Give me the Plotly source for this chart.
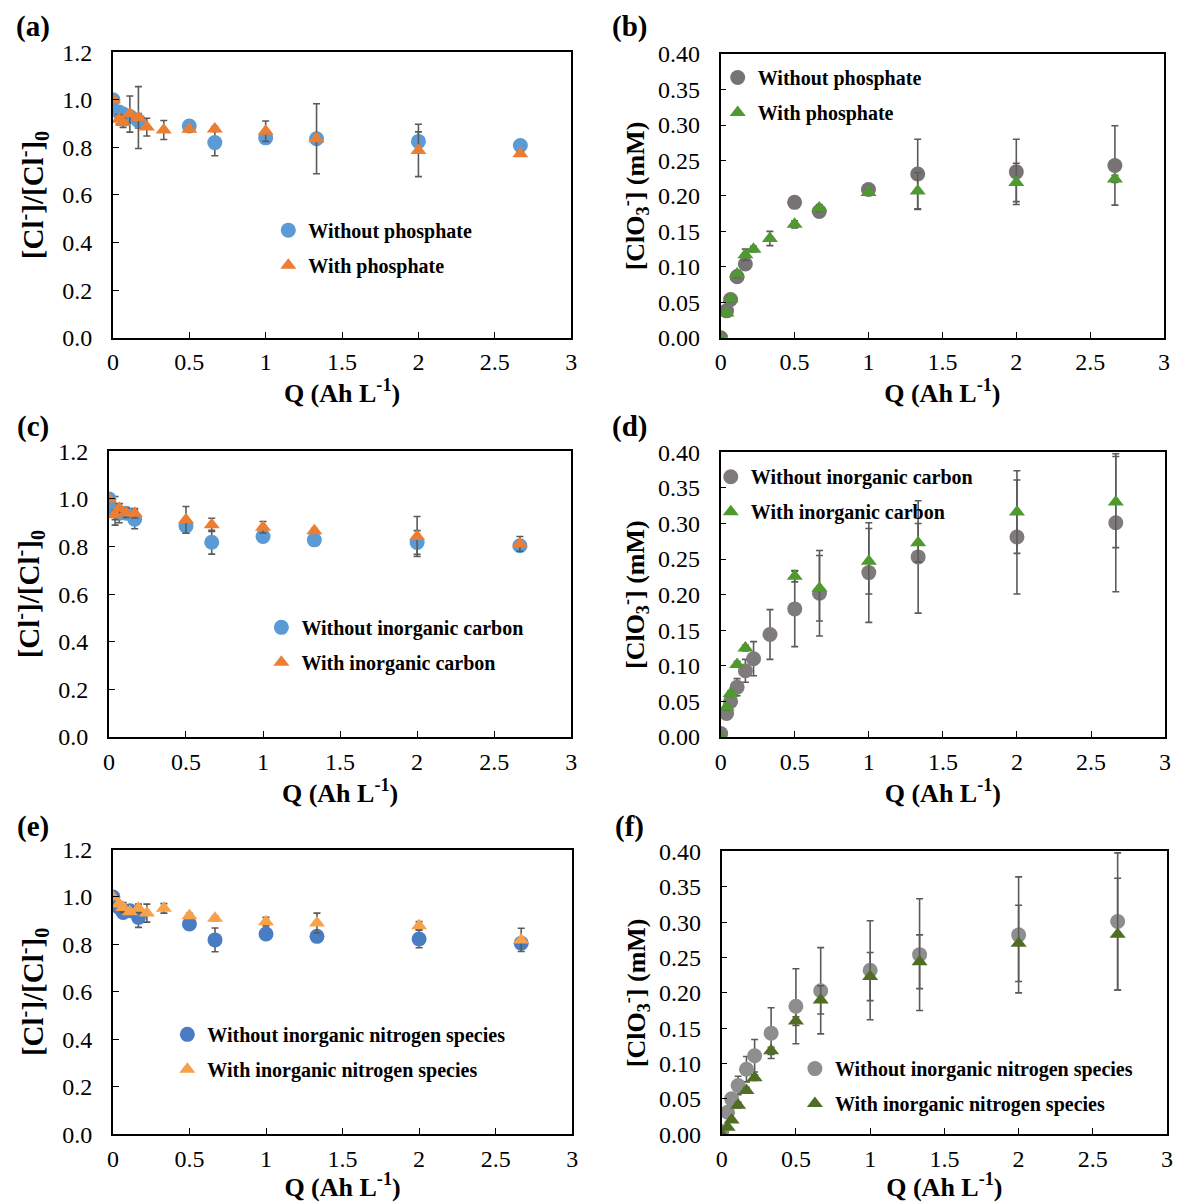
import plotly.graph_objects as go

W, H = 1182, 1202

# ---------------- data ----------------
Q = [0, 0.04, 0.067, 0.111, 0.167, 0.222, 0.333, 0.5, 0.667, 1.0, 1.333, 2.0, 2.667]

# (a) chloride, phosphate
a_without = [1.00, 0.948, 0.94, 0.93, 0.912, None, None, 0.89, 0.82, 0.84, 0.836, 0.825, 0.808]
a_without_err = [0, 0.02, 0.02, 0.02, 0.03, None, None, 0.01, 0.055, 0.02, 0.02, 0.04, 0.01]
a_with = [1.00, 0.918, 0.904, 0.94, 0.925, 0.885, 0.873, 0.876, 0.877, 0.868, 0.836, 0.787, 0.773]
a_with_err = [0, 0.02, 0.02, 0.076, 0.13, 0.037, 0.04, 0.01, 0.01, 0.043, 0.147, 0.11, 0.01]

# (b) chlorate, phosphate
b_without = [0.0, 0.038, 0.054, 0.086, 0.104, None, None, 0.191, 0.178, 0.209, 0.231, 0.234, 0.243]
b_without_err = [0, 0.003, 0.004, 0.004, 0.005, None, None, 0.005, 0.005, 0.005, 0.049, 0.046, 0.056]
b_with = [0.0, 0.035, 0.055, 0.09, 0.117, 0.125, 0.14, 0.16, 0.183, 0.205, 0.207, 0.219, 0.224]
b_with_err = [0, 0.003, 0.004, 0.005, 0.008, 0.004, 0.01, 0.005, 0.005, 0.004, 0.026, 0.027, 0.005]

# (c) chloride, inorganic carbon
c_without = [1.00, 0.95, 0.94, 0.94, 0.915, None, None, 0.887, 0.818, 0.842, 0.828, 0.817, 0.803]
c_without_err = [0, 0.06, 0.04, 0.02, 0.04, None, None, 0.03, 0.05, 0.01, 0.01, 0.05, 0.01]
c_with = [1.00, 0.933, 0.961, 0.942, 0.94, None, None, 0.912, 0.891, 0.881, 0.866, 0.842, 0.811]
c_with_err = [0, 0.02, 0.02, 0.02, 0.02, None, None, 0.056, 0.028, 0.024, 0.01, 0.084, 0.031]

# (d) chlorate, inorganic carbon
d_without = [0.005, 0.033, 0.05, 0.07, 0.093, 0.11, 0.144, 0.18, 0.202, 0.231, 0.253, 0.281, 0.301]
d_without_err = [0, 0.004, 0.006, 0.012, 0.016, 0.024, 0.035, 0.053, 0.06, 0.07, 0.079, 0.08, 0.097]
d_with = [0.0, 0.042, 0.061, 0.102, 0.125, None, None, 0.226, 0.209, 0.247, 0.273, 0.316, 0.33]
d_with_err = [0, 0.004, 0.004, 0.004, 0.004, None, None, 0.008, 0.046, 0.046, 0.027, 0.058, 0.064]

# (e) chloride, inorganic nitrogen species
e_without = [1.00, 0.956, 0.935, 0.942, 0.914, None, None, 0.886, 0.819, 0.844, 0.834, 0.823, 0.805]
e_without_err = [0, 0.01, 0.01, 0.01, 0.042, None, None, 0.01, 0.05, 0.01, 0.01, 0.037, 0.01]
e_with = [1.00, 0.97, 0.956, 0.938, 0.952, 0.932, 0.952, 0.921, 0.91, 0.896, 0.89, 0.879, 0.819]
e_with_err = [0, 0.01, 0.02, 0.01, 0.018, 0.038, 0.02, 0.01, 0.01, 0.018, 0.042, 0.017, 0.049]

# (f) chlorate, inorganic nitrogen species
f_without = [0.004, 0.031, 0.05, 0.069, 0.092, 0.111, 0.143, 0.181, 0.203, 0.232, 0.254, 0.282, 0.301]
f_without_err = [0, 0.004, 0.006, 0.013, 0.018, 0.023, 0.036, 0.053, 0.061, 0.07, 0.079, 0.082, 0.097]
f_with = [0.0, 0.01, 0.02, 0.041, 0.062, 0.08, 0.118, 0.16, 0.19, 0.223, 0.244, 0.27, 0.283]
f_with_err = [0, 0.002, 0.003, 0.004, 0.004, 0.004, 0.005, 0.006, 0.02, 0.034, 0.038, 0.054, 0.079]

CL_TICKS = [0.0, 0.2, 0.4, 0.6, 0.8, 1.0, 1.2]
CLO3_TICKS = [0.0, 0.05, 0.10, 0.15, 0.20, 0.25, 0.30, 0.35, 0.40]
Q_TICKS = [0, 0.5, 1, 1.5, 2, 2.5, 3]

# ---------------- layout helpers ----------------
SERIF = "Liberation Serif, Times New Roman, serif"
ERR_COLOR = "#5a5a5a"

# plot-area rectangles in pixels: (left, right, top, bottom)
panels = [
    dict(key="a", rect=(108, 571, 40, 332), kind="cl",
         s1=("Without phosphate", a_without, a_without_err, "#5B9BD5"),
         s2=("With phosphate", a_with, a_with_err, "#ED7D31"),
         leg=(265, 219), lab=(27, 14)),
    dict(key="b", rect=(722, 1170, 42, 332), kind="clo3",
         s1=("Without phosphate", b_without, b_without_err, "#787373"),
         s2=("With phosphate", b_with, b_with_err, "#4E9A31"),
         leg=(719, 63), lab=(630, 14)),
    dict(key="c", rect=(104, 571, 448, 740), kind="cl",
         s1=("Without inorganic carbon", c_without, c_without_err, "#5B9BD5"),
         s2=("With inorganic carbon", c_with, c_with_err, "#ED7D31"),
         leg=(258, 625), lab=(27, 423)),
    dict(key="d", rect=(722, 1171, 449, 740), kind="clo3",
         s1=("Without inorganic carbon", d_without, d_without_err, "#7F7B7B"),
         s2=("With inorganic carbon", d_with, d_with_err, "#4E9A2E"),
         leg=(712, 471), lab=(630, 423)),
    dict(key="e", rect=(108, 572, 855, 1146), kind="cl",
         s1=("Without inorganic nitrogen species", e_without, e_without_err, "#4A7CC4"),
         s2=("With inorganic nitrogen species", e_with, e_with_err, "#F7A24B"),
         leg=(163, 1041), lab=(27, 831)),
    dict(key="f", rect=(723, 1173, 857, 1146), kind="clo3",
         s1=("Without inorganic nitrogen species", f_without, f_without_err, "#8E8E8E"),
         s2=("With inorganic nitrogen species", f_with, f_with_err, "#4F6E24"),
         leg=(797, 1076), lab=(630, 831)),
]

fig = go.Figure()
layout = dict(
    width=W, height=H,
    margin=dict(l=0, r=0, t=0, b=0),
    paper_bgcolor="white", plot_bgcolor="white",
    font=dict(family=SERIF, color="black", size=24),
    annotations=[],
)

for i, p in enumerate(panels):
    n = i + 1
    xa = "xaxis" if n == 1 else f"xaxis{n}"
    ya = "yaxis" if n == 1 else f"yaxis{n}"
    xr = "x" if n == 1 else f"x{n}"
    yr = "y" if n == 1 else f"y{n}"
    lg = "legend" if n == 1 else f"legend{n}"
    L, R, T, B = p["rect"]

    for j, (name, ys, errs, color) in enumerate([p["s1"], p["s2"]]):
        sym = "circle" if j == 0 else "triangle-up"
        xs = [q for q, v in zip(Q, ys) if v is not None]
        yv = [v for v in ys if v is not None]
        ev = [e for e, v in zip(errs, ys) if v is not None]
        fig.add_trace(go.Scatter(
            x=xs, y=yv, mode="markers", name=name,
            xaxis=xr, yaxis=yr, legend=lg, legendgroup=f"{p['key']}{j}",
            marker=dict(symbol=sym, size=15 if j == 0 else 14, color=color, line=dict(width=0)),
            error_y=dict(type="data", array=ev, visible=True, color=ERR_COLOR,
                         thickness=1.6, width=3.5),
            showlegend=True,
        ))

    axis_common = dict(
        showline=True, linecolor="black", linewidth=1.6, mirror=True,
        ticks="inside", ticklen=6, tickwidth=1.4, tickcolor="black",
        showgrid=False, zeroline=False,
        tickfont=dict(family=SERIF, size=24, color="black"),
    )
    layout[xa] = dict(
        axis_common,
        domain=[L / W, R / W], anchor=yr,
        range=[0, 3], tickvals=Q_TICKS, ticktext=[str(t) for t in Q_TICKS],
        ticklabelstandoff=2,
        title=dict(text="<b>Q (Ah L<sup>-1</sup>)</b>", font=dict(family=SERIF, size=26), standoff=4),
    )
    if p["kind"] == "cl":
        ytitle = "<b>[Cl<sup>-</sup>]/[Cl<sup>-</sup>]<sub>0</sub></b>"
        layout[ya] = dict(
            axis_common,
            domain=[1 - B / H, 1 - T / H], anchor=xr,
            range=[0, 1.2], tickvals=CL_TICKS, ticktext=[f"{t:.1f}" for t in CL_TICKS],
            ticklabelstandoff=14,
            title=dict(text=ytitle, font=dict(family=SERIF, size=29), standoff=10),
        )
    else:
        ytitle = "<b>[ClO<sub>3</sub><sup>-</sup>] (mM)</b>"
        layout[ya] = dict(
            axis_common,
            domain=[1 - B / H, 1 - T / H], anchor=xr,
            range=[0, 0.4], tickvals=CLO3_TICKS, ticktext=[f"{t:.2f}" for t in CLO3_TICKS],
            ticklabelstandoff=14,
            title=dict(text=ytitle, font=dict(family=SERIF, size=26), standoff=6),
        )

    lx, ly = p["leg"]
    layout[lg] = dict(
        x=lx / W, y=1 - (ly - 17) / H, xanchor="left", yanchor="top",
        bgcolor="rgba(0,0,0,0)", borderwidth=0,
        font=dict(family=SERIF, size=20, color="black", weight="bold"),
        tracegroupgap=6, itemsizing="trace",
    )

    layout["annotations"].append(dict(
        text=f"<b>({p['key']})</b>", x=p["lab"][0] / W, y=1 - p["lab"][1] / H,
        xref="paper", yref="paper", xanchor="center", yanchor="middle",
        showarrow=False, font=dict(family=SERIF, size=29, color="black"),
    ))

fig.update_layout(**layout)
fig.write_html(
    "out.html",
    config={"displayModeBar": False},
    post_script="document.body.style.margin='0';document.body.style.overflow='hidden';",
)
